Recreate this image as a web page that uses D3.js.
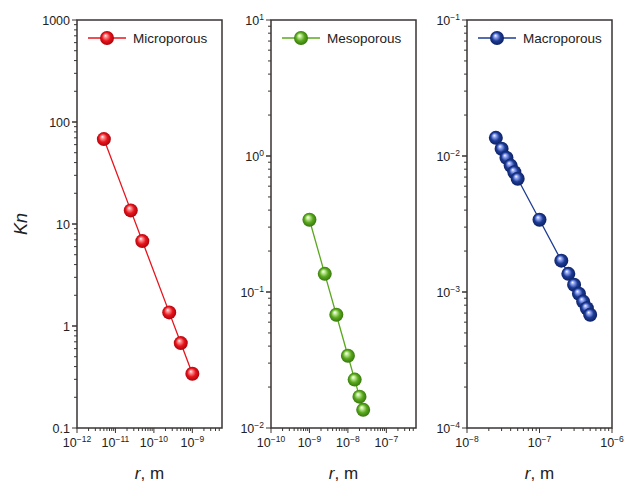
<!DOCTYPE html>
<html>
<head>
<meta charset="utf-8">
<script src="https://cdn.jsdelivr.net/npm/d3@7"></script>
<style>
  body { margin: 0; background: #fff; }
  text { font-family: "Liberation Sans", Arial, sans-serif; }
</style>
</head>
<body>
<script>
// DATA
const microR = [5e-12, 2.5e-11, 5e-11, 2.5e-10, 5e-10, 1e-9];
const microKn = [68, 13.6, 6.8, 1.36, 0.68, 0.34];
const mesoR = [1e-9, 2.5e-9, 5e-9, 1e-8, 1.5e-8, 2e-8, 2.5e-8];
const mesoKn = [0.34, 0.136, 0.068, 0.034, 0.0227, 0.017, 0.0136];
const macroR = [2.5e-8, 3e-8, 3.5e-8, 4e-8, 4.5e-8, 5e-8, 1e-7,
  2e-7, 2.5e-7, 3e-7, 3.5e-7, 4e-7, 4.5e-7, 5e-7];
const macroKn = [0.0136, 0.0113, 0.0097, 0.0085, 0.0076, 0.0068, 0.0034,
  0.0017, 0.00136, 0.00113, 0.00097, 0.00085, 0.00076, 0.00068];

const panels = [
  { name: 'Microporous', r: microR, kn: microKn, xDom: [1e-12, 5.9e-9], xTicks: [-12, -11, -10, -9],
    yDom: [0.1, 1000], yTicks: [0.1, 1, 10, 100, 1000], yPlain: true,
    color: '#e8141c', light: '#ff9a9a', dark: '#a00008', left: 77, id: 'g1' },
  { name: 'Mesoporous', r: mesoR, kn: mesoKn, xDom: [1e-10, 5.9e-7], xTicks: [-10, -9, -8, -7],
    yDom: [0.01, 10], yTicks: [-2, -1, 0, 1], yPlain: false,
    color: '#5aa81e', light: '#c8f0a0', dark: '#2f6e08', left: 271, id: 'g2' },
  { name: 'Macroporous', r: macroR, kn: macroKn, xDom: [1e-8, 1e-6], xTicks: [-8, -7, -6],
    yDom: [1e-4, 0.1], yTicks: [-4, -3, -2, -1], yPlain: false,
    color: '#1c3c94', light: '#9fb0ff', dark: '#0a1a5a', left: 467, id: 'g3' }
];

const width = 625, height = 491;
const plotTop = 20, plotBottom = 428, plotW = 145;
const axisColor = '#3a3533';

const svg = d3.select('body').append('svg')
  .attr('width', width)
  .attr('height', height);

const defs = svg.append('defs');

panels.forEach(p => {
  const grad = defs.append('radialGradient')
    .attr('id', p.id)
    .attr('cx', '0.5').attr('cy', '0.5').attr('r', '0.55')
    .attr('fx', '0.38').attr('fy', '0.32');
  grad.append('stop').attr('offset', '0%').attr('stop-color', '#ffffff');
  grad.append('stop').attr('offset', '18%').attr('stop-color', p.light);
  grad.append('stop').attr('offset', '55%').attr('stop-color', p.color);
  grad.append('stop').attr('offset', '100%').attr('stop-color', p.dark);
});

function expLabel(sel, e) {
  sel.text('10');
  sel.append('tspan')
    .attr('dy', -5)
    .style('font-size', '8.5px')
    .text(String(e).replace('-', '\u2212'));
}

panels.forEach(p => {
  const x = d3.scaleLog().domain(p.xDom).range([p.left, p.left + plotW]);
  const y = d3.scaleLog().domain(p.yDom).range([plotBottom, plotTop]);
  const g = svg.append('g');

  // frame
  g.append('rect')
    .attr('x', p.left).attr('y', plotTop)
    .attr('width', plotW).attr('height', plotBottom - plotTop)
    .attr('fill', 'none').attr('stroke', axisColor).attr('stroke-width', 1.5);

  // x minor + major ticks
  const xMinor = [];
  for (let e = Math.floor(Math.log10(p.xDom[0])); e <= Math.ceil(Math.log10(p.xDom[1])); e++) {
    for (let m = 1; m < 10; m++) {
      const v = m * Math.pow(10, e);
      if (v >= p.xDom[0] * 0.999 && v <= p.xDom[1] * 1.001) xMinor.push({ v, major: m === 1 });
    }
  }
  g.selectAll('.xt').data(xMinor).enter().append('line')
    .attr('x1', d => x(d.v)).attr('x2', d => x(d.v))
    .attr('y1', plotBottom).attr('y2', d => plotBottom + (d.major ? 5 : 3))
    .attr('stroke', axisColor).attr('stroke-width', 1);

  g.selectAll('.xl').data(p.xTicks).enter().append('text')
    .attr('x', d => x(Math.pow(10, d)))
    .attr('y', 447)
    .attr('text-anchor', 'middle')
    .style('font-size', '12.5px')
    .attr('fill', '#222')
    .each(function (d) { expLabel(d3.select(this), d); });

  // y minor + major ticks
  const yMinor = [];
  for (let e = Math.round(Math.log10(p.yDom[0])); e < Math.round(Math.log10(p.yDom[1])); e++) {
    for (let m = 1; m <= 10; m++) {
      yMinor.push({ v: m * Math.pow(10, e), major: m === 1 || m === 10 });
    }
  }
  g.selectAll('.yt').data(yMinor).enter().append('line')
    .attr('y1', d => y(d.v)).attr('y2', d => y(d.v))
    .attr('x1', p.left).attr('x2', d => p.left - (d.major ? 5 : 3))
    .attr('stroke', axisColor).attr('stroke-width', 1);

  g.selectAll('.yl').data(p.yTicks).enter().append('text')
    .attr('x', p.left - 7)
    .attr('y', d => y(p.yPlain ? d : Math.pow(10, d)) + 4.5)
    .attr('text-anchor', 'end')
    .style('font-size', '12.5px')
    .attr('fill', '#222')
    .each(function (d) {
      if (p.yPlain) d3.select(this).text(d);
      else expLabel(d3.select(this), d);
    });

  // line + markers
  const pts = p.r.map((r, i) => [r, p.kn[i]]);
  g.append('path')
    .datum(pts)
    .attr('fill', 'none')
    .attr('stroke', p.color)
    .attr('stroke-width', 1.3)
    .attr('d', d3.line().x(d => x(d[0])).y(d => y(d[1])));

  g.selectAll('.pt').data(pts).enter().append('circle')
    .attr('cx', d => x(d[0])).attr('cy', d => y(d[1]))
    .attr('r', 7)
    .attr('fill', `url(#${p.id})`);

  // legend
  const lx = p.left + 11, ly = 38;
  g.append('line')
    .attr('x1', lx).attr('x2', lx + 38).attr('y1', ly).attr('y2', ly)
    .attr('stroke', p.color).attr('stroke-width', 1.3);
  g.append('circle')
    .attr('cx', lx + 19).attr('cy', ly).attr('r', 7)
    .attr('fill', `url(#${p.id})`);
  g.append('text')
    .attr('x', lx + 45).attr('y', ly + 5)
    .style('font-size', '13.5px')
    .attr('fill', '#222')
    .text(p.name);

  // x label
  const xl = g.append('text')
    .attr('x', p.left + plotW / 2)
    .attr('y', 479)
    .attr('text-anchor', 'middle')
    .style('font-size', '17px')
    .attr('fill', '#222');
  xl.append('tspan').style('font-style', 'italic').text('r');
  xl.append('tspan').text(', m');
});

// y label
svg.append('text')
  .attr('transform', 'translate(27,224) rotate(-90)')
  .attr('text-anchor', 'middle')
  .style('font-size', '18px')
  .style('font-style', 'italic')
  .attr('fill', '#222')
  .text('Kn');
</script>
</body>
</html>
